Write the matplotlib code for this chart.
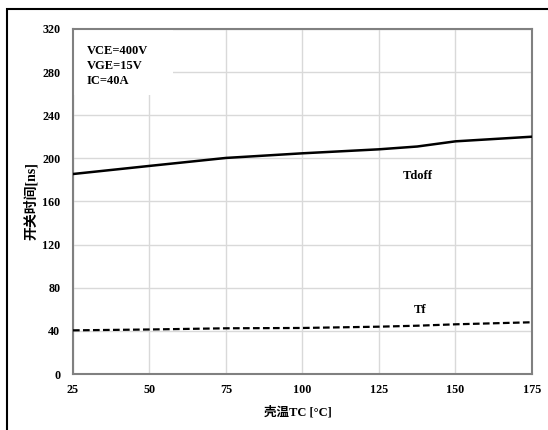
import matplotlib
matplotlib.use('Agg')
import matplotlib.pyplot as plt
from matplotlib.patches import Rectangle

# 字体: 数字用衬线粗体, 中文回退到 Noto Sans CJK
plt.rcParams['font.family'] = ['Liberation Serif', 'Noto Sans CJK SC']
plt.rcParams['font.weight'] = 'bold'

temp = [25, 50, 75, 100, 125, 137.5, 150, 175]
tdoff = [185.5, 193, 200.4, 204.7, 208.4, 211, 215.8, 220.1]
tf = [40.5, 41.3, 42.4, 42.7, 43.9, 44.8, 46.1, 48.0]

xticks = [25, 50, 75, 100, 125, 150, 175]
yticks = [0, 40, 80, 120, 160, 200, 240, 280, 320]

fig = plt.figure(figsize=(5.48, 4.30), dpi=100)
ax = fig.add_axes([0.1332, 0.1302, 0.8376, 0.8024])

ax.plot(temp, tdoff, color='black', lw=1.8, zorder=3)
ax.plot(temp, tf, color='black', lw=1.6, ls=(0, (3, 1.5)), zorder=3)

ax.set_xlim(25, 175)
ax.set_ylim(0, 320)
ax.set_xticks(xticks)
ax.set_yticks(yticks)
ax.grid(True, color='#d9d9d9', lw=1)
ax.set_axisbelow(True)
ax.tick_params(length=0, labelsize=8.7)
ax.tick_params(axis='y', pad=9)
ax.tick_params(axis='x', pad=7)
for s in ax.spines.values():
    s.set_color('#808080')
    s.set_linewidth(1.5)

# 条件说明 (白底遮住网格)
ax.add_patch(Rectangle((0.003, 0.81), 0.215, 0.186, transform=ax.transAxes,
                       facecolor='white', edgecolor='none', zorder=2))
ax.text(0.03, 0.955, 'VCE=400V\nVGE=15V\nIC=40A', transform=ax.transAxes,
        fontsize=9, fontweight='bold', va='top', ha='left',
        linespacing=1.35, zorder=4)

ax.text(137.7, 183.7, 'Tdoff', fontsize=9, fontweight='bold',
        ha='center', va='center')
ax.text(138.3, 59.4, 'Tf', fontsize=9, fontweight='bold',
        ha='center', va='center')

ax.set_ylabel('开关时间[ns]', fontsize=10, fontweight='bold')
ax.yaxis.set_label_coords(-0.077, 0.5)
ax.set_xlabel('壳温TC [°C]', fontsize=9, fontweight='bold')
ax.xaxis.set_label_coords(0.49, -0.092)

# 外框
fig.add_artist(Rectangle((7 / 548, -0.1), 1.2, (430 - 9) / 430 + 0.1,
                         transform=fig.transFigure, fill=False,
                         edgecolor='black', lw=1.5))

fig.savefig('out.png', dpi=100)
